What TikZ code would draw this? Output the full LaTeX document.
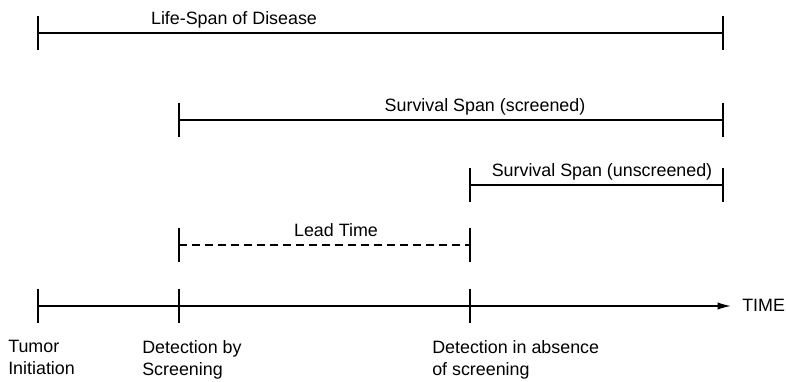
\documentclass[tikz,border=0pt]{standalone}
\usepackage{fontspec}
\setmainfont{Liberation Sans}
\usetikzlibrary{arrows.meta,positioning}

\begin{document}
\begin{tikzpicture}[x=0.75pt, y=-0.75pt,
    span/.style={line width=1.1pt},
    tick/.style={line width=1.1pt},
    lbl/.style={font=\fontsize{13.4}{16.5}\selectfont, inner sep=0pt},
    arrow/.style={-{Latex[length=10pt, width=5.5pt]}, line width=1.1pt}]
    \useasboundingbox (0,0) rectangle (786,382);

    % end points of the spans
    \coordinate (lifeA) at (38,33);
    \coordinate (lifeB) at (723,33);
    \coordinate (scrA) at (179,120);
    \coordinate (scrB) at (723,120);
    \coordinate (unsA) at (470,185);
    \coordinate (unsB) at (723,185);
    \coordinate (leadA) at (179,245);
    \coordinate (leadB) at (470,245);
    \coordinate (tInit) at (38,306);
    \coordinate (tScr) at (179,306);
    \coordinate (tAbs) at (470,306);
    \coordinate (tEnd) at (731,306);

    \draw[span] (lifeA) -- (lifeB);
    \draw[span] (scrA) -- (scrB);
    \draw[span] (unsA) -- (unsB);
    \draw[span, dash pattern=on 6pt off 3.75pt] (leadA) -- (leadB);
    \draw[arrow] (tInit) -- (tEnd);

    \foreach \p in {lifeA,lifeB,scrA,scrB,unsA,unsB,leadA,leadB,tInit,tScr,tAbs}
        \draw[tick] ([yshift=13pt]\p) -- ([yshift=-13pt]\p);

    % span labels
    \node[lbl, anchor=base] (lifeLbl) at (234,24) {Life-Span of Disease};
    \node[lbl, anchor=base] (scrLbl) at (485,111) {Survival Span (screened)};
    \node[lbl, anchor=base] (unsLbl) at (602,176) {Survival Span (unscreened)};
    \node[lbl, anchor=base] (leadLbl) at (336,236) {Lead Time};
    \node[lbl, anchor=base west] (timeLbl) at (742,311) {TIME};

    % event labels
    \node[lbl, anchor=north west, align=left] (initLbl) at (8,340) {Tumor\\Initiation};
    \node[lbl, anchor=north west, align=left] (scrEvLbl) at (142,340) {Detection by\\Screening};
    \node[lbl, anchor=north west, align=left] (absLbl) at (432,340) {Detection in absence\\of screening};
\end{tikzpicture}
\end{document}
